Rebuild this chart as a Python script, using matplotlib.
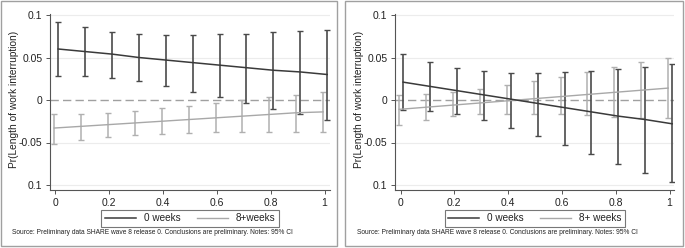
import matplotlib
matplotlib.use("Agg")
import matplotlib.pyplot as plt
from matplotlib.patches import Rectangle
import numpy as np

plt.rcParams['font.family'] = ['Liberation Sans', 'DejaVu Sans']

x_vals = [0, 0.1, 0.2, 0.3, 0.4, 0.5, 0.6, 0.7, 0.8, 0.9, 1.0]
x_ticks = [0, 0.2, 0.4, 0.6, 0.8, 1.0]
x_ticklabels = ["0", "0.2", "0.4", "0.6", "0.8", "1"]
y_ticks = [0.1, 0.05, 0, -0.05, -0.1]
y_ticklabels = ["0.1", "0.05", "0", "-0.05", "0.1"]

# Left panel
left_0w_est = [0.060, 0.057, 0.054, 0.050, 0.047, 0.044, 0.041, 0.038, 0.035, 0.033, 0.030]
left_0w_hi = [0.092, 0.0854, 0.080, 0.078, 0.077, 0.077, 0.0776, 0.078, 0.0795, 0.081, 0.082]
left_0w_lo = [0.028, 0.028, 0.026, 0.022, 0.017, 0.010, 0.0035, -0.003, -0.010, -0.017, -0.023]
left_8w_est = [-0.033, -0.031, -0.029, -0.027, -0.025, -0.023, -0.021, -0.019, -0.017, -0.015, -0.014]
left_8w_hi = [-0.0165, -0.016, -0.015, -0.013, -0.0095, -0.0067, -0.003, 0.0004, 0.0035, 0.0063, 0.0094]
left_8w_lo = [-0.0516, -0.047, -0.043, -0.041, -0.0398, -0.0386, -0.038, -0.038, -0.038, -0.038, -0.038]

# Right panel
right_0w_est = [0.021, 0.016, 0.011, 0.006, 0.001, -0.004, -0.009, -0.014, -0.019, -0.023, -0.028]
right_0w_hi = [0.054, 0.0445, 0.038, 0.034, 0.032, 0.032, 0.0335, 0.0347, 0.0366, 0.039, 0.042]
right_0w_lo = [-0.0114, -0.0134, -0.017, -0.024, -0.0327, -0.0425, -0.053, -0.064, -0.075, -0.086, -0.097]
right_8w_est = [-0.011, -0.0085, -0.006, -0.0035, -0.001, 0.0015, 0.004, 0.0065, 0.009, 0.0115, 0.014]
right_8w_hi = [0.0063, 0.0075, 0.010, 0.0134, 0.0177, 0.0228, 0.0276, 0.0335, 0.039, 0.0445, 0.050]
right_8w_lo = [-0.029, -0.023, -0.019, -0.017, -0.017, -0.0165, -0.017, -0.018, -0.0197, -0.021, -0.0217]

ylabel = "Pr(Length of work interruption)"
source = "Source: Preliminary data SHARE wave 8 release 0. Conclusions are preliminary. Notes: 95% CI"

W, H = 685, 248
fig = plt.figure(figsize=(W / 100, H / 100), dpi=100)
fig.patch.set_facecolor('white')

DARK = '#3a3a3a'
DARK_BAR = '#4a4a4a'
LIGHT = '#a8a8a8'
LIGHT_BAR = '#b0b0b0'


def px_rect(x0, y0, x1, y1):
    return [x0 / W, 1 - y1 / H, (x1 - x0) / W, (y1 - y0) / H]


def panel(box, ax_rect, est0, hi0, lo0, est8, hi8, lo8, leg_labels, leg_rect, src_x, ylab_x):
    # panel border
    bx0, by0, bx1, by1 = box
    fig.patches.append(Rectangle((bx0 / W, 1 - by1 / H), (bx1 - bx0) / W, (by1 - by0) / H,
                                 transform=fig.transFigure, fill=False,
                                 edgecolor='#a0a0a0', linewidth=1.0))
    ax = fig.add_axes(px_rect(*ax_rect))
    x = np.array(x_vals)
    ax_top, ax_bot = ax_rect[1], ax_rect[3]
    per = 0.2 / (185 - 15)
    ax.set_ylim(-0.1 - (ax_bot - 185) * per, 0.1 + (15 - ax_top) * per)
    x0px, x1px = ax_rect[0], ax_rect[2]
    zero_px = x0px + 5.5
    scale = 269
    ax.set_xlim(-(zero_px - x0px) / scale, 1 + (x1px - (zero_px + scale)) / scale)

    for yt in [0.1, 0.05, -0.05, -0.1]:
        ax.axhline(yt, color='#ececec', linewidth=0.8, zorder=0)
    ax.axhline(0, color='#a0a0a0', linewidth=1.0, linestyle=(0, (6, 3)), zorder=1)

    est0 = np.array(est0); est8 = np.array(est8)
    x0 = x + 0.01
    x8 = x - 0.005
    ax.errorbar(x8, est8, yerr=[est8 - np.array(lo8), np.array(hi8) - est8], fmt='none',
                ecolor=LIGHT_BAR, elinewidth=1.1, capsize=2.5, capthick=1.0, zorder=2)
    ax.errorbar(x0, est0, yerr=[est0 - np.array(lo0), np.array(hi0) - est0], fmt='none',
                ecolor=DARK_BAR, elinewidth=1.2, capsize=2.5, capthick=1.0, zorder=3)
    l8, = ax.plot(x8, est8, color=LIGHT, linewidth=1.0, zorder=4)
    l0, = ax.plot(x0, est0, color=DARK, linewidth=1.1, zorder=5)

    ax.spines['top'].set_visible(False)
    ax.spines['right'].set_visible(False)
    for s in ['left', 'bottom']:
        ax.spines[s].set_color('#555555')
        ax.spines[s].set_linewidth(0.8)
    ax.set_yticks(y_ticks)
    ax.set_yticklabels(y_ticklabels)
    ax.set_xticks(x_ticks)
    ax.set_xticklabels(x_ticklabels)
    ax.tick_params(axis='both', labelsize=7.5, length=3, width=0.7, color='#555555',
                   labelcolor='#222222', pad=2.5)
    ax.set_facecolor('white')

    fig.text(ylab_x / W, 1 - ((ax_top + ax_bot) / 2 - 3) / H, ylabel, rotation=90,
             ha='center', va='center', fontsize=7.3, color='#222222')

    # legend
    lx0, ly0, lx1, ly1 = leg_rect
    leg = fig.legend([l0, l8], leg_labels, loc='center',
                     bbox_to_anchor=((lx0 + lx1) / 2 / W, 1 - (ly0 + ly1) / 2 / H),
                     ncol=2, fontsize=7.2, frameon=True, fancybox=False,
                     edgecolor='#555555', handlelength=3.1, columnspacing=1.6,
                     handletextpad=0.8, borderpad=0.35, borderaxespad=0)
    leg.get_frame().set_linewidth(0.8)
    for t in leg.get_texts():
        t.set_color('#222222')

    fig.text(src_x / W, 1 - 232 / H, source, ha='left', va='center', fontsize=4.75,
             color='#222222')
    return ax


panel((1, 1, 337, 246), (50, 14, 330, 190),
      left_0w_est, left_0w_hi, left_0w_lo, left_8w_est, left_8w_hi, left_8w_lo,
      ["0 weeks", "8+weeks"], (109, 210, 271, 226), 12, 14)

panel((345, 1, 683, 246), (395, 14, 674, 190),
      right_0w_est, right_0w_hi, right_0w_lo, right_8w_est, right_8w_hi, right_8w_lo,
      ["0 weeks", "8+ weeks"], (453, 210, 616, 226), 357, 359)

fig.savefig("out.png", dpi=100, facecolor='white')
